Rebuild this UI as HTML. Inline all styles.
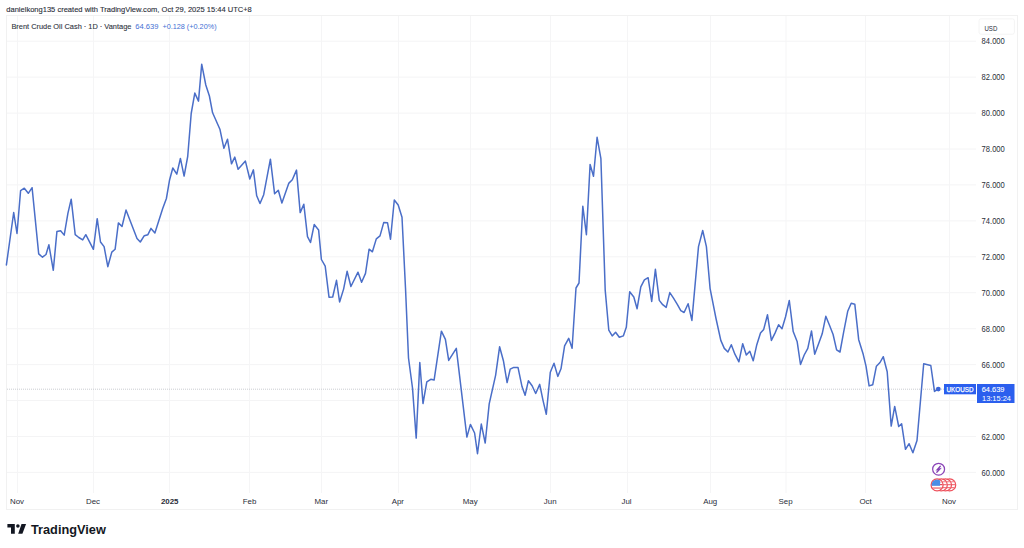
<!DOCTYPE html>
<html><head><meta charset="utf-8"><style>
html,body{margin:0;padding:0;background:#fff;width:1024px;height:548px;overflow:hidden}
svg{display:block}
text{font-family:"Liberation Sans", sans-serif}
</style></head><body>
<svg width="1024" height="548" viewBox="0 0 1024 548">
<rect x="0" y="0" width="1024" height="548" fill="#fff"/>
<text x="6.3" y="12" font-size="8.1" fill="#2a2e39" stroke="#2a2e39" stroke-width="0.12" textLength="245.5" lengthAdjust="spacingAndGlyphs">danielkong135 created with TradingView.com, Oct 29, 2025 15:44 UTC+8</text>
<rect x="6.5" y="15.5" width="1011" height="494" fill="none" stroke="#f1f1f1" stroke-width="1"/>
<g stroke="#f4f4f5" stroke-width="1"><line x1="7" x2="976" y1="472.4" y2="472.4"/><line x1="7" x2="976" y1="436.5" y2="436.5"/><line x1="7" x2="976" y1="400.5" y2="400.5"/><line x1="7" x2="976" y1="364.6" y2="364.6"/><line x1="7" x2="976" y1="328.7" y2="328.7"/><line x1="7" x2="976" y1="292.7" y2="292.7"/><line x1="7" x2="976" y1="256.8" y2="256.8"/><line x1="7" x2="976" y1="220.9" y2="220.9"/><line x1="7" x2="976" y1="184.9" y2="184.9"/><line x1="7" x2="976" y1="149.0" y2="149.0"/><line x1="7" x2="976" y1="113.1" y2="113.1"/><line x1="7" x2="976" y1="77.1" y2="77.1"/><line x1="7" x2="976" y1="41.2" y2="41.2"/></g><g stroke="#f5f5f6" stroke-width="1"><line x1="17.5" x2="17.5" y1="16" y2="493"/><line x1="93.5" x2="93.5" y1="16" y2="493"/><line x1="169.5" x2="169.5" y1="16" y2="493"/><line x1="249.5" x2="249.5" y1="16" y2="493"/><line x1="321.5" x2="321.5" y1="16" y2="493"/><line x1="398.5" x2="398.5" y1="16" y2="493"/><line x1="470.5" x2="470.5" y1="16" y2="493"/><line x1="550.5" x2="550.5" y1="16" y2="493"/><line x1="627.5" x2="627.5" y1="16" y2="493"/><line x1="710.5" x2="710.5" y1="16" y2="493"/><line x1="786" x2="786" y1="16" y2="493"/><line x1="865.5" x2="865.5" y1="16" y2="493"/><line x1="949.5" x2="949.5" y1="16" y2="493"/></g>
<line x1="7" x2="978" y1="389.2" y2="389.2" stroke="#c4c6cc" stroke-width="0.9" stroke-dasharray="1 1"/>
<text x="11.4" y="28.8" font-size="8" fill="#2e323c" stroke="#2e323c" stroke-width="0.1" textLength="120" lengthAdjust="spacingAndGlyphs">Brent Crude Oil Cash · 1D · Vantage</text><text y="28.8" font-size="8" fill="#3f70d4"><tspan x="135.2" textLength="23.2" lengthAdjust="spacingAndGlyphs">64.639</tspan><tspan x="162.4" textLength="54.2" lengthAdjust="spacingAndGlyphs">+0.128 (+0.20%)</tspan></text>
<rect x="979" y="18.8" width="35.4" height="15.4" rx="2" fill="#fff" stroke="#f1f1f1" stroke-width="0.8"/><text x="984.5" y="30.9" font-size="7.9" fill="#2a2e39" textLength="12.8" lengthAdjust="spacingAndGlyphs">USD</text>
<g font-size="8.2" fill="#2a2e39"><text x="981.6" y="475.6" textLength="23.2" lengthAdjust="spacingAndGlyphs">60.000</text><text x="981.6" y="439.7" textLength="23.2" lengthAdjust="spacingAndGlyphs">62.000</text><text x="981.6" y="367.8" textLength="23.2" lengthAdjust="spacingAndGlyphs">66.000</text><text x="981.6" y="331.9" textLength="23.2" lengthAdjust="spacingAndGlyphs">68.000</text><text x="981.6" y="295.9" textLength="23.2" lengthAdjust="spacingAndGlyphs">70.000</text><text x="981.6" y="260.0" textLength="23.2" lengthAdjust="spacingAndGlyphs">72.000</text><text x="981.6" y="224.1" textLength="23.2" lengthAdjust="spacingAndGlyphs">74.000</text><text x="981.6" y="188.1" textLength="23.2" lengthAdjust="spacingAndGlyphs">76.000</text><text x="981.6" y="152.2" textLength="23.2" lengthAdjust="spacingAndGlyphs">78.000</text><text x="981.6" y="116.3" textLength="23.2" lengthAdjust="spacingAndGlyphs">80.000</text><text x="981.6" y="80.3" textLength="23.2" lengthAdjust="spacingAndGlyphs">82.000</text><text x="981.6" y="44.4" textLength="23.2" lengthAdjust="spacingAndGlyphs">84.000</text></g>
<g font-size="7.9" fill="#2a2e39"><text x="17" y="504.1" text-anchor="middle">Nov</text><text x="93" y="504.1" text-anchor="middle">Dec</text><text x="169.7" y="504.1" text-anchor="middle" font-weight="bold">2025</text><text x="249.5" y="504.1" text-anchor="middle">Feb</text><text x="321.3" y="504.1" text-anchor="middle">Mar</text><text x="397.8" y="504.1" text-anchor="middle">Apr</text><text x="470.2" y="504.1" text-anchor="middle">May</text><text x="550.2" y="504.1" text-anchor="middle">Jun</text><text x="626.5" y="504.1" text-anchor="middle">Jul</text><text x="710.2" y="504.1" text-anchor="middle">Aug</text><text x="785.6" y="504.1" text-anchor="middle">Sep</text><text x="865.6" y="504.1" text-anchor="middle">Oct</text><text x="949" y="504.1" text-anchor="middle">Nov</text></g>
<path d="M6.4 264.9 L13.7 212.5 L17.0 233.5 L20.6 190.6 L24.3 188.2 L28.3 193.3 L32.1 187.7 L38.7 253.9 L42.5 257.2 L46.0 254.5 L48.9 244.8 L53.3 270.3 L56.9 231.6 L60.6 230.7 L64.2 235.1 L67.9 213.4 L71.2 199.2 L75.2 234.7 L78.8 237.5 L82.7 239.9 L85.8 234.7 L93.4 249.3 L97.2 218.7 L100.5 242.0 L104.1 246.6 L107.8 266.7 L111.8 252.1 L115.1 249.3 L118.4 222.9 L122.0 226.5 L126.0 210.1 L137.0 238.4 L140.3 242.0 L144.3 235.7 L147.9 234.7 L151.0 228.4 L154.9 232.9 L162.7 208.5 L166.4 198.5 L169.5 180.3 L172.8 168.0 L176.8 174.2 L180.4 158.4 L184.1 176.1 L187.7 156.5 L191.2 113.5 L194.8 93.1 L198.5 101.1 L201.7 64.2 L205.8 85.0 L209.4 96.0 L212.6 112.8 L219.9 129.2 L223.9 148.3 L227.5 139.2 L231.5 163.8 L234.8 157.1 L238.1 169.3 L245.4 161.1 L249.8 179.0 L253.4 169.9 L256.7 195.8 L260.0 203.5 L263.7 194.7 L270.4 159.2 L274.6 193.8 L278.3 190.2 L281.9 203.0 L288.7 183.4 L292.3 179.8 L296.5 170.1 L300.2 212.6 L303.8 204.2 L307.5 236.7 L310.5 242.5 L314.2 224.6 L318.6 229.9 L321.4 259.5 L325.2 266.2 L329.0 297.2 L332.7 297.0 L336.5 280.3 L339.6 302.0 L343.6 289.1 L347.1 271.3 L350.9 286.5 L358.0 272.2 L361.6 282.3 L365.5 273.4 L369.1 249.2 L372.4 251.8 L376.3 238.9 L380.0 235.9 L383.7 222.6 L387.5 222.7 L390.5 239.3 L394.3 200.0 L398.2 205.0 L402.0 217.2 L405.5 288.0 L408.5 358.0 L412.5 388.0 L416.2 438.1 L419.8 362.5 L423.0 403.5 L426.8 381.9 L430.8 379.3 L434.1 380.1 L441.4 331.2 L445.4 339.3 L448.7 360.4 L456.3 348.4 L466.9 437.1 L470.4 424.4 L474.6 433.0 L477.5 453.7 L481.3 424.1 L485.2 443.0 L489.2 403.9 L495.6 375.3 L499.6 346.8 L503.4 360.7 L507.1 382.6 L510.2 369.2 L513.8 367.4 L518.0 367.4 L522.0 386.6 L525.1 395.3 L528.4 380.7 L532.1 385.7 L535.7 393.5 L539.7 384.4 L543.0 400.3 L546.3 414.3 L550.3 372.3 L554.0 363.2 L557.8 376.4 L561.0 368.8 L564.6 345.9 L568.7 338.3 L572.1 348.3 L576.0 288.0 L579.0 283.0 L582.8 206.2 L586.4 234.7 L590.1 164.5 L593.5 176.3 L597.1 137.3 L600.9 158.7 L605.2 290.1 L608.8 330.2 L612.2 335.9 L615.6 332.2 L619.3 337.3 L623.3 335.9 L626.3 327.2 L629.7 291.8 L633.8 297.0 L637.1 308.7 L640.8 286.8 L644.4 279.9 L648.1 277.7 L651.7 301.4 L655.4 269.3 L659.3 300.4 L662.7 304.7 L666.2 307.4 L669.8 292.6 L673.5 298.2 L677.3 304.3 L680.8 310.6 L684.1 312.5 L688.1 303.7 L691.9 320.4 L698.5 246.6 L702.7 230.5 L706.4 246.6 L710.1 288.6 L716.0 318.5 L720.8 340.4 L724.3 348.4 L727.9 352.0 L731.3 344.7 L734.9 354.2 L738.9 361.8 L742.7 343.7 L746.3 355.0 L749.8 351.3 L753.2 360.8 L756.8 344.7 L760.5 333.1 L763.7 329.4 L767.5 314.8 L771.4 340.4 L775.0 333.1 L778.6 324.7 L782.0 328.7 L785.5 317.0 L789.3 300.5 L793.2 331.6 L797.2 341.8 L800.5 364.5 L804.2 355.0 L807.8 348.4 L811.5 330.9 L814.7 354.2 L818.5 344.0 L822.2 333.8 L825.8 316.3 L829.7 325.8 L833.1 334.5 L836.6 349.9 L840.0 352.0 L843.6 332.3 L847.7 311.3 L851.2 303.3 L854.8 304.2 L858.7 339.7 L863.2 354.3 L866.0 366.2 L869.1 385.9 L872.7 384.8 L876.4 366.2 L880.0 362.5 L883.3 356.7 L887.2 371.8 L891.2 426.1 L894.7 406.4 L898.7 426.5 L901.6 423.7 L905.5 449.3 L909.1 443.7 L912.9 452.8 L917.0 440.5 L923.7 363.7 L930.8 365.5 L934.5 391.4 L938.2 389.1" fill="none" stroke="#4a6ec8" stroke-width="1.5" stroke-linejoin="round" stroke-linecap="round"/>
<circle cx="938.3" cy="389.1" r="2.4" fill="#3d66d8"/>
<rect x="944" y="384" width="32" height="10.3" fill="#2b5fee"/>
<text x="946.5" y="391.7" font-size="7.4" fill="#fff" stroke="#fff" stroke-width="0.25" textLength="27" lengthAdjust="spacingAndGlyphs">UKOUSD</text>
<rect x="977" y="384" width="37.5" height="19" fill="#2b5fee"/>
<text x="981.7" y="391.8" font-size="8" fill="#fff" stroke="#fff" stroke-width="0.1" textLength="22.8" lengthAdjust="spacingAndGlyphs">64.639</text>
<text x="982" y="400.5" font-size="8" fill="#fff" textLength="29" lengthAdjust="spacingAndGlyphs">13:15:24</text>
<defs><clipPath id="fc"><circle cx="937.1" cy="484.9" r="5.5"/></clipPath></defs>
<circle cx="938.6" cy="469.2" r="5.95" fill="#fff" stroke="#8b45b8" stroke-width="1.25"/>
<path d="M940.3 466.2 L937.3 469.6 L939.9 468.9 L936.8 472.3" fill="none" stroke="#8440b4" stroke-width="1.3" stroke-linejoin="miter" stroke-linecap="round"/>
<g stroke="#ee4f5a" stroke-width="1.25">
<circle cx="949.7" cy="484.9" r="6" fill="#fff"/><path d="M951.3 484.6h4M951.2 481.8h3.4M951.2 487.6h3.4" stroke="#f07880" stroke-width="1.1"/>
<circle cx="945.5" cy="484.9" r="6" fill="#fff"/><path d="M947.1 484.6h4M947.0 481.8h3.4M947.0 487.6h3.4" stroke="#f07880" stroke-width="1.1"/>
<circle cx="941.3" cy="484.9" r="6" fill="#fff"/><path d="M942.9 484.6h4M942.8 481.8h3.4M942.8 487.6h3.4" stroke="#f07880" stroke-width="1.1"/>
<circle cx="937.1" cy="484.9" r="6" fill="#fff"/>
<g clip-path="url(#fc)" stroke="none"><rect x="930" y="484" width="14" height="1.2" fill="#e84a55"/><rect x="930" y="487.4" width="14" height="1.3" fill="#ee6a72"/><rect x="940" y="481.6" width="4" height="1" fill="#f0a0a6"/><rect x="930" y="478" width="10.1" height="7.8" fill="#4a8ee6"/></g>
</g>
<path d="M7.4 524 H14.8 V533.7 H11 V527.6 H7.4 Z" fill="#131722"/>
<circle cx="17.9" cy="526" r="1.8" fill="#131722"/>
<path d="M21.5 524 H26.1 L22.4 533.7 H18.2 Z" fill="#131722"/>
<text x="31" y="533.6" font-size="13.5" font-weight="bold" fill="#131722" textLength="74.8" lengthAdjust="spacingAndGlyphs">TradingView</text>
</svg>
</body></html>
